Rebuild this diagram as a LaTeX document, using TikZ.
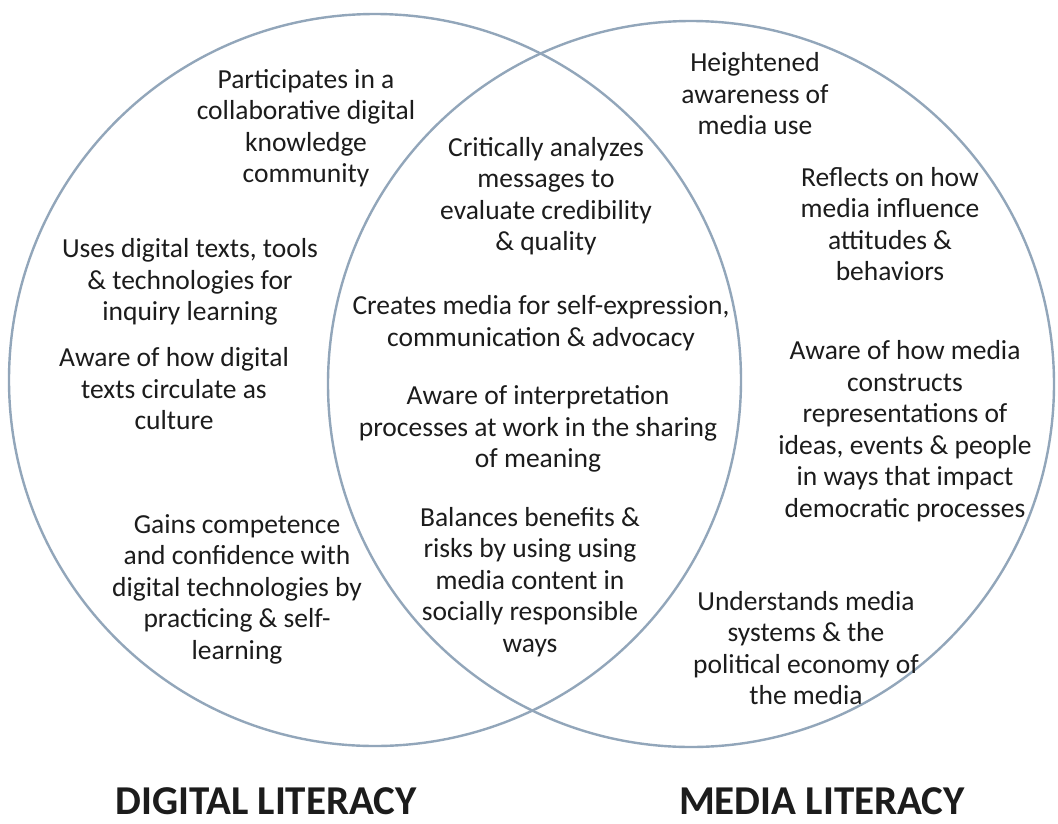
\documentclass[tikz,border=0pt]{standalone}
\usepackage{fontspec}
\setmainfont{Carlito}
\definecolor{ring}{RGB}{146,166,186}
\definecolor{ink}{RGB}{28,28,28}
\begin{document}
\begin{tikzpicture}[x=1pt,y=-1pt,
  item/.style={align=center,inner sep=0pt,text=ink,font=\fontsize{27.5}{31.5}\selectfont},
  heading/.style={anchor=base,inner sep=0pt,text=ink,font=\fontsize{41}{46}\selectfont\bfseries},
  ring/.style={draw=ring,line width=2.4pt}]
\useasboundingbox[fill=white] (0,0) rectangle (1058,823);

% the two overlapping sets
\draw[ring] (375,380) circle[radius=366];
\draw[ring] (691,384) circle[radius=363];

% digital literacy only
\node[item] (p1) at (306,128) {Participates in a\\collaborative digital\\knowledge\\community};
\node[item] (p2) at (190,282) {Uses digital texts, tools\\\& technologies for\\inquiry learning};
\node[item] (p3) at (174,389) {Aware of how digital\\texts circulate as\\culture};
\node[item] (p4) at (237,589) {Gains competence\\and confidence with\\digital technologies by\\practicing \& self-\\learning};

% shared by both
\node[item] (m1) at (546,196) {Critically analyzes\\messages to\\evaluate credibility\\\& quality};
\node[item] (m2) at (541,323) {Creates media for self-expression,\\communication \& advocacy};
\node[item] (m3) at (538,429) {Aware of interpretation\\processes at work in the sharing\\of meaning};
\node[item] (m4) at (530,582) {Balances benefits \&\\risks by using using\\media content in\\socially responsible\\ways};

% media literacy only
\node[item] (r1) at (755,94) {Heightened\\awareness of\\media use};
\node[item] (r2) at (890,224) {Reflects on how\\media influence\\attitudes \&\\behaviors};
\node[item] (r3) at (905,431) {Aware of how media\\constructs\\representations of\\ideas, events \& people\\in ways that impact\\democratic processes};
\node[item] (r4) at (806,648) {Understands media\\systems \& the\\political economy of\\the media};

% set names
\node[heading] (dl) at (266,814) {DIGITAL LITERACY};
\node[heading] (ml) at (822,814) {MEDIA LITERACY};
\end{tikzpicture}
\end{document}
